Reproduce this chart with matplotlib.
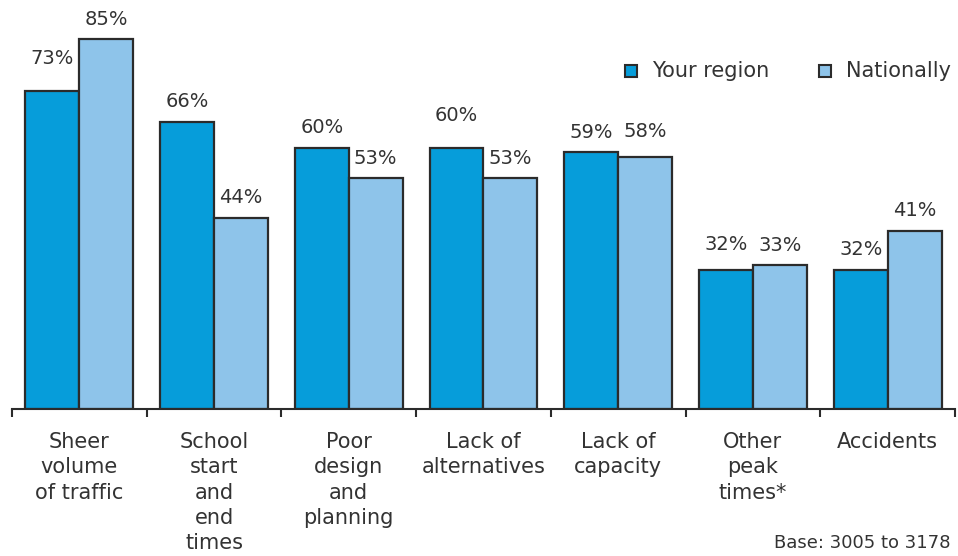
import matplotlib.pyplot as plt
from matplotlib.patches import Rectangle
import numpy as np

categories = ['Sheer\nvolume\nof traffic', 'School\nstart\nand\nend\ntimes',
              'Poor\ndesign\nand\nplanning', 'Lack of\nalternatives',
              'Lack of\ncapacity', 'Other\npeak\ntimes*', 'Accidents']
your_region = [73, 66, 60, 60, 59, 32, 32]
nationally = [85, 44, 53, 53, 58, 33, 41]

DARK = '#069dda'
LIGHT = '#8ec4ea'
EDGE = '#2b2b2b'
TEXT = '#333333'

plt.rcParams['font.family'] = 'DejaVu Sans'

fig = plt.figure(figsize=(9.58, 5.56), dpi=100)
ax = fig.add_axes([12 / 958, 147 / 556, 943 / 958, 409 / 556])

x = np.arange(len(categories))
width = 0.4
bars_a = ax.bar(x - width / 2, your_region, width, color=DARK,
                edgecolor=EDGE, linewidth=1.6, label='Your region')
bars_b = ax.bar(x + width / 2, nationally, width, color=LIGHT,
                edgecolor=EDGE, linewidth=1.6, label='Nationally')

ax.set_xlim(-0.5, len(categories) - 0.5)
ax.set_ylim(0, 94)

# value labels; a few are nudged up to line up with their neighbour
extra = {(0, 0): 13, (3, 0): 12, (4, 1): 5, (5, 0): 5}
for s, bars in enumerate([bars_a, bars_b]):
    for i, b in enumerate(bars):
        ax.annotate(f'{b.get_height():.0f}%',
                    (b.get_x() + b.get_width() / 2, b.get_height()),
                    xytext=(0, 20 + extra.get((i, s), 0)),
                    textcoords='offset pixels', ha='center', va='center',
                    fontsize=14, color=TEXT)

for side in ['top', 'right', 'left']:
    ax.spines[side].set_visible(False)
ax.spines['bottom'].set_color(EDGE)
ax.spines['bottom'].set_linewidth(1.5)
ax.set_yticks([])

# group separators as ticks, category names centred between them
ax.set_xticks(np.arange(len(categories) + 1) - 0.5)
ax.set_xticklabels([])
ax.tick_params(axis='x', direction='out', length=6, width=1.5, color=EDGE)
for i, name in enumerate(categories):
    ax.text(i, -5.3, name, ha='center', va='top', fontsize=15,
            color=TEXT, linespacing=1.33)

# legend drawn by hand: small outlined squares and labels
for xs, lab, col in [(631, 'Your region', DARK), (825, 'Nationally', LIGHT)]:
    fig.patches.append(Rectangle((xs - 6, 556 - 77), 12, 12,
                                 transform=None, facecolor=col,
                                 edgecolor=EDGE, linewidth=1.5))
    fig.text((xs + 21) / 958, 1 - 71 / 556, lab, ha='left', va='center',
             fontsize=15, color=TEXT)

fig.text(950 / 958, 4 / 556, 'Base: 3005 to 3178', ha='right',
         va='bottom', fontsize=13, color=TEXT)

fig.savefig('out.png', dpi=100)
